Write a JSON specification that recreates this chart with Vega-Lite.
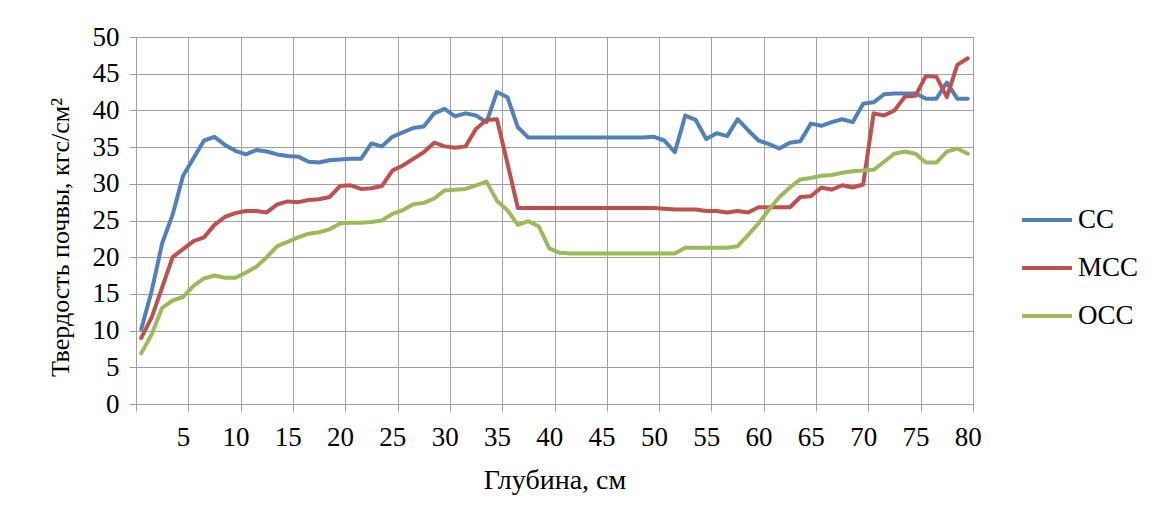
{
  "$schema": "https://vega.github.io/schema/vega-lite/v6.json",
  "width": 837,
  "height": 367,
  "autosize": "none",
  "padding": {"left": 136, "top": 37, "right": 183, "bottom": 116},
  "background": "white",
  "config": {
    "font": "Liberation Serif",
    "view": {"stroke": "#a0a0a0", "strokeWidth": 1}
  },
  "data": {
    "values": [
      {"d": 1, "CC": 10.2, "MCC": 9.0, "OCC": 6.9},
      {"d": 2, "CC": 15.4, "MCC": 11.8, "OCC": 9.5},
      {"d": 3, "CC": 21.9, "MCC": 15.9, "OCC": 13.1},
      {"d": 4, "CC": 25.8, "MCC": 20.0, "OCC": 14.1},
      {"d": 5, "CC": 31.1, "MCC": 21.1, "OCC": 14.6},
      {"d": 6, "CC": 33.5, "MCC": 22.2, "OCC": 16.1},
      {"d": 7, "CC": 35.9, "MCC": 22.7, "OCC": 17.1},
      {"d": 8, "CC": 36.4, "MCC": 24.4, "OCC": 17.5},
      {"d": 9, "CC": 35.3, "MCC": 25.5, "OCC": 17.2},
      {"d": 10, "CC": 34.5, "MCC": 26.0, "OCC": 17.2},
      {"d": 11, "CC": 34.0, "MCC": 26.3, "OCC": 17.9},
      {"d": 12, "CC": 34.6, "MCC": 26.3, "OCC": 18.7},
      {"d": 13, "CC": 34.4, "MCC": 26.1, "OCC": 20.0},
      {"d": 14, "CC": 34.0, "MCC": 27.2, "OCC": 21.5},
      {"d": 15, "CC": 33.8, "MCC": 27.6, "OCC": 22.1},
      {"d": 16, "CC": 33.7, "MCC": 27.5, "OCC": 22.7},
      {"d": 17, "CC": 33.0, "MCC": 27.8, "OCC": 23.2},
      {"d": 18, "CC": 32.9, "MCC": 27.9, "OCC": 23.4},
      {"d": 19, "CC": 33.2, "MCC": 28.2, "OCC": 23.8},
      {"d": 20, "CC": 33.3, "MCC": 29.7, "OCC": 24.6},
      {"d": 21, "CC": 33.4, "MCC": 29.8, "OCC": 24.7},
      {"d": 22, "CC": 33.4, "MCC": 29.3, "OCC": 24.7},
      {"d": 23, "CC": 35.5, "MCC": 29.4, "OCC": 24.8},
      {"d": 24, "CC": 35.1, "MCC": 29.7, "OCC": 25.0},
      {"d": 25, "CC": 36.4, "MCC": 31.8, "OCC": 25.9},
      {"d": 26, "CC": 37.0, "MCC": 32.5, "OCC": 26.4},
      {"d": 27, "CC": 37.6, "MCC": 33.4, "OCC": 27.2},
      {"d": 28, "CC": 37.8, "MCC": 34.3, "OCC": 27.4},
      {"d": 29, "CC": 39.6, "MCC": 35.6, "OCC": 28.0},
      {"d": 30, "CC": 40.2, "MCC": 35.1, "OCC": 29.1},
      {"d": 31, "CC": 39.2, "MCC": 34.9, "OCC": 29.2},
      {"d": 32, "CC": 39.6, "MCC": 35.1, "OCC": 29.3},
      {"d": 33, "CC": 39.3, "MCC": 37.5, "OCC": 29.8},
      {"d": 34, "CC": 38.4, "MCC": 38.7, "OCC": 30.3},
      {"d": 35, "CC": 42.5, "MCC": 38.8, "OCC": 27.7},
      {"d": 36, "CC": 41.8, "MCC": 32.8, "OCC": 26.4},
      {"d": 37, "CC": 37.7, "MCC": 26.7, "OCC": 24.4},
      {"d": 38, "CC": 36.3, "MCC": 26.7, "OCC": 24.9},
      {"d": 39, "CC": 36.3, "MCC": 26.7, "OCC": 24.2},
      {"d": 40, "CC": 36.3, "MCC": 26.7, "OCC": 21.2},
      {"d": 41, "CC": 36.3, "MCC": 26.7, "OCC": 20.6},
      {"d": 42, "CC": 36.3, "MCC": 26.7, "OCC": 20.5},
      {"d": 43, "CC": 36.3, "MCC": 26.7, "OCC": 20.5},
      {"d": 44, "CC": 36.3, "MCC": 26.7, "OCC": 20.5},
      {"d": 45, "CC": 36.3, "MCC": 26.7, "OCC": 20.5},
      {"d": 46, "CC": 36.3, "MCC": 26.7, "OCC": 20.5},
      {"d": 47, "CC": 36.3, "MCC": 26.7, "OCC": 20.5},
      {"d": 48, "CC": 36.3, "MCC": 26.7, "OCC": 20.5},
      {"d": 49, "CC": 36.3, "MCC": 26.7, "OCC": 20.5},
      {"d": 50, "CC": 36.4, "MCC": 26.7, "OCC": 20.5},
      {"d": 51, "CC": 35.9, "MCC": 26.6, "OCC": 20.5},
      {"d": 52, "CC": 34.3, "MCC": 26.5, "OCC": 20.5},
      {"d": 53, "CC": 39.3, "MCC": 26.5, "OCC": 21.3},
      {"d": 54, "CC": 38.7, "MCC": 26.5, "OCC": 21.3},
      {"d": 55, "CC": 36.1, "MCC": 26.3, "OCC": 21.3},
      {"d": 56, "CC": 36.9, "MCC": 26.3, "OCC": 21.3},
      {"d": 57, "CC": 36.5, "MCC": 26.1, "OCC": 21.3},
      {"d": 58, "CC": 38.8, "MCC": 26.3, "OCC": 21.5},
      {"d": 59, "CC": 37.3, "MCC": 26.1, "OCC": 23.0},
      {"d": 60, "CC": 35.9, "MCC": 26.8, "OCC": 24.6},
      {"d": 61, "CC": 35.4, "MCC": 26.8, "OCC": 26.5},
      {"d": 62, "CC": 34.8, "MCC": 26.8, "OCC": 28.2},
      {"d": 63, "CC": 35.6, "MCC": 26.8, "OCC": 29.5},
      {"d": 64, "CC": 35.8, "MCC": 28.2, "OCC": 30.6},
      {"d": 65, "CC": 38.2, "MCC": 28.3, "OCC": 30.8},
      {"d": 66, "CC": 37.9, "MCC": 29.5, "OCC": 31.1},
      {"d": 67, "CC": 38.4, "MCC": 29.2, "OCC": 31.2},
      {"d": 68, "CC": 38.8, "MCC": 29.8, "OCC": 31.5},
      {"d": 69, "CC": 38.4, "MCC": 29.5, "OCC": 31.7},
      {"d": 70, "CC": 40.9, "MCC": 29.9, "OCC": 31.8},
      {"d": 71, "CC": 41.1, "MCC": 39.6, "OCC": 31.9},
      {"d": 72, "CC": 42.2, "MCC": 39.3, "OCC": 33.0},
      {"d": 73, "CC": 42.3, "MCC": 40.0, "OCC": 34.1},
      {"d": 74, "CC": 42.3, "MCC": 41.9, "OCC": 34.4},
      {"d": 75, "CC": 42.3, "MCC": 42.0, "OCC": 34.1},
      {"d": 76, "CC": 41.6, "MCC": 44.7, "OCC": 32.9},
      {"d": 77, "CC": 41.6, "MCC": 44.6, "OCC": 32.9},
      {"d": 78, "CC": 43.8, "MCC": 41.8, "OCC": 34.4},
      {"d": 79, "CC": 41.6, "MCC": 46.2, "OCC": 34.8},
      {"d": 80, "CC": 41.6, "MCC": 47.1, "OCC": 34.1}
    ]
  },
  "transform": [{"fold": ["CC", "MCC", "OCC"], "as": ["series", "value"]}],
  "mark": {"type": "line", "strokeWidth": 4, "strokeCap": "round", "strokeJoin": "round"},
  "encoding": {
    "x": {
      "field": "d",
      "type": "quantitative",
      "scale": {"domain": [0.5, 80.5], "nice": false, "zero": false},
      "axis": {
        "values": [0.5, 5.5, 10.5, 15.5, 20.5, 25.5, 30.5, 35.5, 40.5, 45.5, 50.5, 55.5, 60.5, 65.5, 70.5, 75.5, 80.5],
        "labelExpr": "datum.value > 1 ? format(datum.value - 0.5, 'd') : ''",
        "labelOffset": -5.23,
        "labelFlush": false,
        "labelOverlap": false,
        "grid": true,
        "gridColor": "#a0a0a0",
        "gridOpacity": 1,
        "tickColor": "#a0a0a0",
        "domainColor": "#a0a0a0",
        "tickSize": 7,
        "labelFontSize": 27,
        "labelColor": "black",
        "labelPadding": 13,
        "title": "Глубина, см",
        "titleFontSize": 28,
        "titleFontWeight": "normal",
        "titleColor": "black",
        "titlePadding": 16
      }
    },
    "y": {
      "field": "value",
      "type": "quantitative",
      "scale": {"domain": [0, 50], "nice": false},
      "axis": {
        "values": [0, 5, 10, 15, 20, 25, 30, 35, 40, 45, 50],
        "grid": true,
        "gridColor": "#a0a0a0",
        "gridOpacity": 1,
        "tickColor": "#a0a0a0",
        "domainColor": "#a0a0a0",
        "tickSize": 7,
        "labelFontSize": 27,
        "labelColor": "black",
        "labelPadding": 10,
        "labelOverlap": false,
        "labelFlush": false,
        "title": "Твердость почвы, кгс/см²",
        "titleFontSize": 26,
        "titleFontWeight": "normal",
        "titleColor": "black",
        "titlePadding": 19,
        "titleY": 200
      }
    },
    "color": {
      "field": "series",
      "type": "nominal",
      "scale": {"domain": ["CC", "MCC", "OCC"], "range": ["#4F81BD", "#C0504D", "#9BBB59"]},
      "legend": {
        "title": null,
        "orient": "none",
        "legendX": 884,
        "legendY": 156,
        "symbolType": "stroke",
        "symbolSize": 2500,
        "symbolStrokeWidth": 4,
        "labelFontSize": 27,
        "labelColor": "black",
        "labelOffset": 4,
        "rowPadding": 8
      }
    }
  }
}
